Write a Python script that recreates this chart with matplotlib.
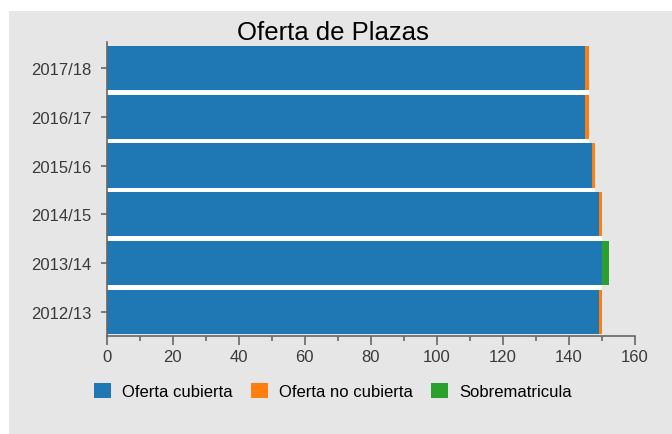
import matplotlib
matplotlib.use('Agg')
import matplotlib.pyplot as plt
from matplotlib.patches import Rectangle
from matplotlib.ticker import MultipleLocator
import numpy as np

plt.rcParams['font.family'] = ['Liberation Sans', 'DejaVu Sans']

years = ['2012/13', '2013/14', '2014/15', '2015/16', '2016/17', '2017/18']
cubierta = [149, 150, 149, 147, 145, 145]
no_cubierta = [1, 0, 1, 1, 1, 1]
sobrematricula = [0, 2, 0, 0, 0, 0]

bg = '#e6e6e6'
fig = plt.figure(figsize=(6.72, 4.35), dpi=100, facecolor='white')
fig.patches.append(Rectangle((9 / 672, 0), 1, 1 - 12 / 435, transform=fig.transFigure,
                             facecolor=bg, edgecolor='none', zorder=-1))
ax = fig.add_axes([106.7 / 672, 1 - 337 / 435, 528.3 / 672, 294 / 435])
ax.set_facecolor(bg)

y = np.arange(len(years))
total = np.array(cubierta) + np.array(no_cubierta) + np.array(sobrematricula)
h = 0.91
# white strips between neighbouring bars
gap_w = np.minimum(total[:-1], total[1:])
ax.barh(y[:-1] + 0.5, gap_w, height=1 - h + 0.01, color='white', edgecolor='none',
        zorder=1)
ax.barh(y, cubierta, height=h, color='#1f77b4', edgecolor='none', zorder=2,
        label='Oferta cubierta')
left2 = np.array(cubierta)
ax.barh(y, no_cubierta, left=left2, height=h, color='#ff7f0e', edgecolor='none',
        zorder=2, label='Oferta no cubierta')
left3 = left2 + np.array(no_cubierta)
ax.barh(y, sobrematricula, left=left3, height=h, color='#2ca02c', edgecolor='none',
        zorder=2, label='Sobrematricula')

ax.set_ylim(-0.5, 5.54)
ax.set_xlim(0, 160)
ax.set_yticks(y)
ax.set_yticklabels(years)
ax.xaxis.set_major_locator(MultipleLocator(20))
ax.xaxis.set_minor_locator(MultipleLocator(10))

for s in ['top', 'right']:
    ax.spines[s].set_visible(False)
for s in ['left', 'bottom']:
    ax.spines[s].set_color('#666666')
    ax.spines[s].set_linewidth(1.2)
    ax.spines[s].set_zorder(3)
ax.tick_params(axis='both', colors='#666666', labelcolor='#3a3a3a', labelsize=12,
               length=6.5, width=1.2, direction='out')
ax.tick_params(axis='x', which='minor', length=3.5, width=1.2, color='#666666')
ax.tick_params(axis='y', length=4.5, pad=6.5)
ax.tick_params(axis='x', pad=3)

fig.text(333 / 672, 1 - 40 / 435, 'Oferta de Plazas', fontsize=18.5, color='black',
         ha='center', va='baseline')

ax.legend(loc='center left', bbox_to_anchor=(94 / 672, 1 - 391.7 / 435),
          bbox_transform=fig.transFigure, ncol=3, frameon=False, fontsize=12,
          handlelength=1.02, handleheight=1.02, columnspacing=1.08,
          handletextpad=0.68, borderpad=0, borderaxespad=0)

fig.savefig('out.png', dpi=100, facecolor=fig.get_facecolor())
